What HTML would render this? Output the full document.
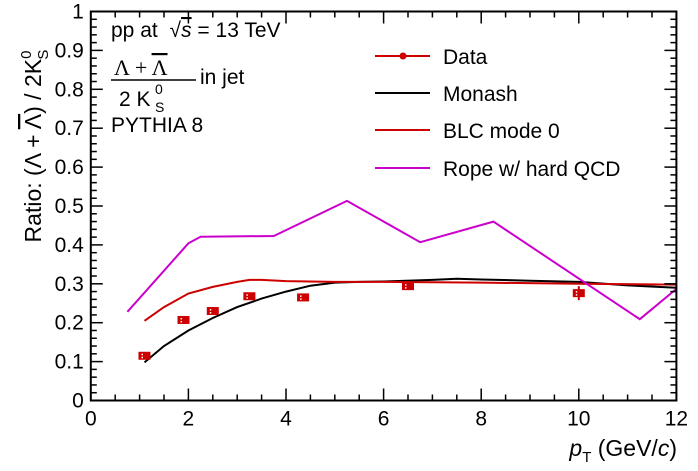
<!DOCTYPE html>
<html><head><meta charset="utf-8"><style>
body{margin:0;background:#fff;}
svg{display:block;font-family:"Liberation Sans",sans-serif;}
</style></head><body>
<svg id="c" width="698" height="471" viewBox="0 0 698 471">
<rect x="0" y="0" width="698" height="471" fill="#fff"/>
<g id="marks"></g>
<g id="axes"></g>
<g font-size="21">
<text x="111" y="37">pp at <tspan dx="6">√</tspan><tspan font-style="italic" text-decoration="overline">s</tspan> = 13 TeV</text>
<text x="114" y="75" font-family="Liberation Serif" font-size="22">Λ + <tspan text-decoration="overline">Λ</tspan></text>
<line x1="111" y1="80" x2="196" y2="80" stroke="#000" stroke-width="1.5"/>
<text x="200" y="84">in jet</text>
<text x="119" y="106">2 K</text><text x="155" y="94" font-size="14">0</text><text x="155" y="112" font-size="14">S</text>
<text x="111" y="132">PYTHIA 8</text>
</g>
<g font-size="21">
<g><line x1="375" y1="56" x2="430" y2="56" stroke="#cc0000" stroke-width="2"/><circle cx="403" cy="56" r="3.5" fill="#cc0000"/><text x="443" y="64">Data</text></g>
<g><line x1="375" y1="93" x2="430" y2="93" stroke="#000" stroke-width="2"/><text x="443" y="101">Monash</text></g>
<g><line x1="375" y1="130" x2="430" y2="130" stroke="#cc0000" stroke-width="2"/><text x="443" y="138">BLC mode 0</text></g>
<g><line x1="375" y1="168" x2="430" y2="168" stroke="#cc00cc" stroke-width="2"/><text x="443" y="176">Rope w/ hard QCD</text></g>
</g>
<text x="677" y="456" font-size="23" text-anchor="end"><tspan font-style="italic">p</tspan><tspan font-size="15" dy="6">T</tspan><tspan dy="-6"> (GeV/</tspan><tspan font-style="italic">c</tspan>)</text>
<text transform="translate(41,146) rotate(-90)" font-size="23" text-anchor="middle">Ratio: (Λ + <tspan text-decoration="overline">Λ</tspan>) / 2K<tspan font-size="15" dy="-10">0</tspan><tspan font-size="15" dx="-9" dy="17">S</tspan></text>
</svg>
<script>
const dataX=[1.1,1.9,2.5,3.25,4.35,6.5,10.0];
const dataY=[0.115,0.207,0.23,0.268,0.265,0.294,0.276];
const dataErr=[0.008,0.006,0.006,0.006,0.007,0.007,0.018];
const monashX=[1.1,1.5,2,2.5,3,3.5,4,4.5,5,5.5,6,7,7.5,8,9,10,11,12];
const monashY=[0.098,0.14,0.18,0.212,0.24,0.262,0.28,0.295,0.303,0.305,0.306,0.31,0.313,0.311,0.308,0.305,0.296,0.29];
const blcX=[1.1,1.5,2,2.5,3,3.25,3.5,4,5,6,8,10,12];
const blcY=[0.205,0.24,0.275,0.292,0.305,0.31,0.31,0.307,0.305,0.305,0.303,0.3,0.298];
const ropeX=[0.75,2.0,2.25,3.75,5.25,6.75,8.25,11.25,12];
const ropeY=[0.228,0.404,0.421,0.423,0.513,0.407,0.46,0.209,0.287];
const xTicks=[0,2,4,6,8,10,12];
const yTicks=[0,0.1,0.2,0.3,0.4,0.5,0.6,0.7,0.8,0.9,1];
const X0=90.8,XS=48.8,Y0=400.5,YS=389;
const sx=v=>X0+v*XS, sy=v=>Y0-v*YS;
const NS="http://www.w3.org/2000/svg";
const marks=document.getElementById('marks'),axes=document.getElementById('axes');
function mk(t,a,p){const e=document.createElementNS(NS,t);for(const k in a)e.setAttribute(k,a[k]);p.appendChild(e);return e;}
function line(xs,ys,col,name){
 const pts=xs.map((x,i)=>sx(x).toFixed(1)+','+sy(ys[i]).toFixed(1)).join(' ');
 const e=mk('polyline',{points:pts,fill:'none',stroke:col,'stroke-width':2},marks);
 
 
}
line(monashX,monashY,'#000','monash-line');
line(blcX,blcY,'#cc0000','blc-mode0-line');
line(ropeX,ropeY,'#cc00cc','rope-line');
dataX.forEach((x,i)=>{
 const cx=sx(x),cy=sy(dataY[i]);
 const g=mk('g',{},marks);
 
 
 mk('line',{x1:cx,x2:cx,y1:sy(dataY[i]+dataErr[i]),y2:sy(dataY[i]-dataErr[i]),stroke:'#cc0000','stroke-width':2},g);
 mk('rect',{x:cx-6,y:cy-4,width:12,height:8,fill:'#cc0000'},g);
 mk('rect',{x:cx-3,y:cy-2,width:1.5,height:1.5,fill:'#fff'},g);
 mk('rect',{x:cx-3,y:cy+1,width:1.5,height:1.5,fill:'#fff'},g);
});
const fr=mk('rect',{x:sx(0),y:sy(1),width:sx(12)-sx(0),height:sy(0)-sy(1),fill:'none',stroke:'#000','stroke-width':2},axes);


for(let v=0;v<=12.001;v+=0.5){const big=Math.abs(v/2-Math.round(v/2))<1e-6;const L=big?12:6;
 mk('line',{x1:sx(v),x2:sx(v),y1:sy(0),y2:sy(0)-L,stroke:'#000','stroke-width':1.5},axes);
 mk('line',{x1:sx(v),x2:sx(v),y1:sy(1),y2:sy(1)+L,stroke:'#000','stroke-width':1.5},axes);}
for(let k=0;k<=50;k++){const v=k*0.02;const big=k%5==0;const L=big?12:6;
 mk('line',{x1:sx(0),x2:sx(0)+L,y1:sy(v),y2:sy(v),stroke:'#000','stroke-width':1.5},axes);
 mk('line',{x1:sx(12),x2:sx(12)-L,y1:sy(v),y2:sy(v),stroke:'#000','stroke-width':1.5},axes);}
xTicks.forEach(v=>{const t=mk('text',{x:sx(v),y:sy(0)+25,'font-size':21,'text-anchor':'middle'},axes);t.textContent=v;
 
 });
yTicks.forEach(v=>{const t=mk('text',{x:sx(0)-7,y:sy(v)+7,'font-size':21,'text-anchor':'end'},axes);t.textContent=(v===0||v===1)?String(v):v.toFixed(1);
 
 });
</script>
</body></html>
